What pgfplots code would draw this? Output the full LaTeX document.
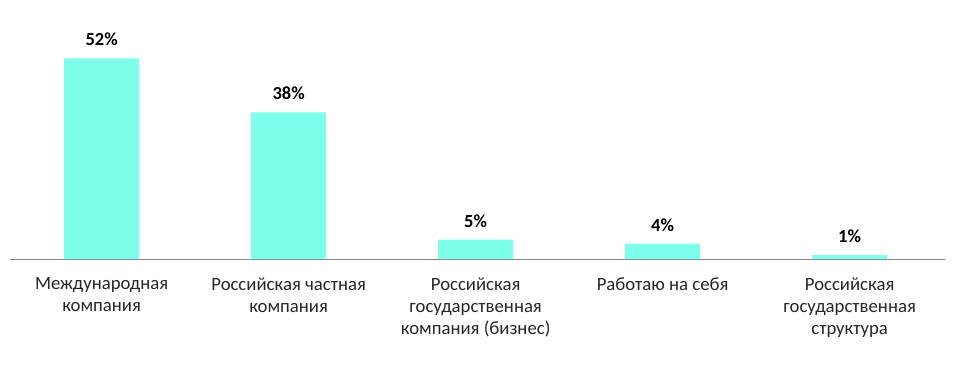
\documentclass[border=0pt]{standalone}
\usepackage{fontspec}
\setmainfont{Carlito}
\usepackage{pgfplots}
\pgfplotsset{compat=1.18}
\definecolor{barc}{HTML}{7DFFEB}
\definecolor{axc}{HTML}{868686}
\begin{document}
\begin{tikzpicture}
\useasboundingbox (-10bp,-118bp) rectangle (948bp,259bp);
\begin{axis}[
  at={(0,0)}, anchor=south west,
  scale only axis,
  width=935bp, height=259bp,
  xmin=-0.49, xmax=4.51,
  ymin=0, ymax=67.1,
  axis x line*=bottom,
  axis y line=none,
  x axis line style={axc, line width=0.8bp, -},
  xtick=data,
  xtick style={draw=none},
  xticklabels={{Международная\\компания},{Российская частная\\компания},{Российская\\государственная\\компания (бизнес)},{Работаю на себя},{Российская\\государственная\\структура}},
  xticklabel style={font=\fontsize{18.8}{22.5}\selectfont, align=center, anchor=north, inner sep=0pt, yshift=-14bp, text=black!85},
  ybar, bar width=75bp,
  /pgf/number format/assume math mode=true,
  nodes near coords={\pgfmathprintnumber{\pgfplotspointmeta}\%},
  every node near coord/.append style={font=\fontsize{18.5}{20}\selectfont\bfseries, anchor=south, inner sep=0pt, yshift=12bp, text=black},
]
\addplot[fill=barc, draw=none] coordinates {(0,52) (1,38) (2,5) (3,4) (4,1)};
\end{axis}
\end{tikzpicture}
\end{document}
